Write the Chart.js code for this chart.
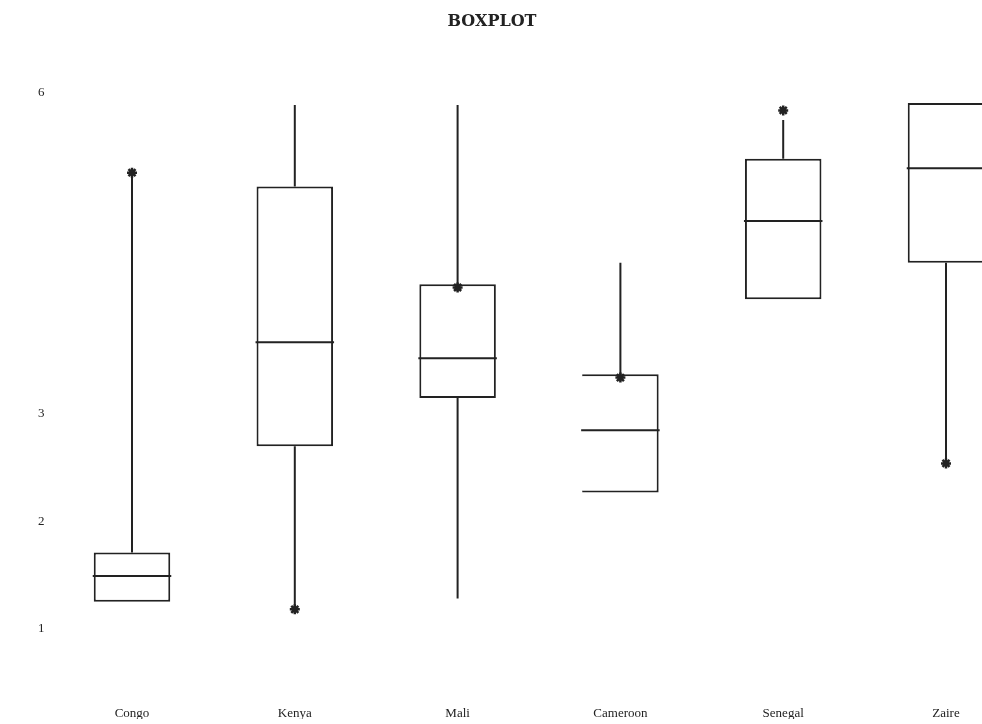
<!DOCTYPE html>
<html>
<head>
<meta charset="utf-8">
<script src="https://cdn.jsdelivr.net/npm/chart.js@4"></script>
<style>
  html, body { margin: 0; padding: 0; background: #fff; }
  #wrap { width: 982px; height: 724px; }
</style>
</head>
<body>
<div id="wrap"><canvas id="chart"></canvas></div>
<script>
const countries = ['Congo', 'Kenya', 'Mali', 'Cameroon', 'Senegal', 'Zaire'];
const q1 = [1.25, 2.70, 3.15, 2.27, 4.07, 4.41];
const median = [1.49, 3.67, 3.52, 2.85, 4.80, 5.29];
const q3 = [1.71, 5.12, 4.21, 3.37, 5.38, 5.90];
const whiskerLow = [null, 1.18, 1.28, null, null, 2.54];
const whiskerHigh = [5.25, 5.88, 5.88, 4.41, 5.74, null];
const outliers = [5.25, 1.18, 4.18, 3.34, 5.83, 2.54];
const yTicks = [1, 2, 3, 6];

const ink = '#222';
const serif = "'Liberation Serif', 'DejaVu Serif', serif";

// whiskers + median lines, drawn through the chart's own scales
const boxLines = {
  id: 'boxLines',
  afterDatasetsDraw(chart) {
    const ctx = chart.ctx;
    const x = chart.scales.x, y = chart.scales.y;
    const bars = chart.getDatasetMeta(1).data;
    ctx.save();
    ctx.strokeStyle = ink;
    ctx.lineWidth = 2;
    countries.forEach((c, i) => {
      const cx = x.getPixelForValue(i);
      const half = bars[i].width / 2;
      ctx.beginPath();
      const my = y.getPixelForValue(median[i]);
      ctx.moveTo(cx - half - 1, my);
      ctx.lineTo(cx + half + 1, my);
      if (whiskerHigh[i] != null) {
        ctx.moveTo(cx, y.getPixelForValue(q3[i]));
        ctx.lineTo(cx, y.getPixelForValue(whiskerHigh[i]));
      }
      if (whiskerLow[i] != null) {
        ctx.moveTo(cx, y.getPixelForValue(q1[i]));
        ctx.lineTo(cx, y.getPixelForValue(whiskerLow[i]));
      }
      ctx.stroke();
    });
    ctx.restore();
  }
};

new Chart(document.getElementById('chart'), {
  type: 'bar',
  data: {
    labels: countries,
    datasets: [
      {
        type: 'line',
        data: outliers,
        showLine: false,
        pointStyle: 'star',
        pointRadius: 5,
        borderWidth: 2.5,
        borderColor: ink,
        backgroundColor: ink,
        clip: false
      },
      {
        data: countries.map((c, i) => [q1[i], q3[i]]),
        backgroundColor: '#fff',
        borderColor: ink,
        borderWidth: 2,
        borderSkipped: ctx => ctx.dataIndex === 3 ? 'left' : false,
        barPercentage: 0.47,
        categoryPercentage: 1,
        clip: false
      }
    ]
  },
  options: {
    responsive: true,
    maintainAspectRatio: false,
    animation: false,
    layout: { padding: { top: 0, left: 38, right: 36, bottom: 5 } },
    plugins: {
      legend: { display: false },
      tooltip: { enabled: false },
      title: {
        display: true,
        text: 'BOXPLOT',
        color: ink,
        font: { family: "'DejaVu Serif', serif", size: 16, weight: 'bold' },
        padding: { top: 12, bottom: 61 }
      }
    },
    scales: {
      x: {
        offset: false,
        grid: { display: false },
        border: { display: false },
        afterFit: s => { s.height = 26; },
        ticks: { color: ink, font: { family: serif, size: 13 }, padding: 5, maxRotation: 0 }
      },
      y: {
        min: 0.4,
        max: 6,
        grid: { display: false },
        border: { display: false },
        afterBuildTicks: s => { s.ticks = yTicks.map(v => ({ value: v })); },
        afterFit: s => { s.width = 94; },
        ticks: { color: ink, font: { family: serif, size: 13 }, crossAlign: 'far', padding: 0 }
      }
    }
  },
  plugins: [boxLines]
});
</script>
</body>
</html>
